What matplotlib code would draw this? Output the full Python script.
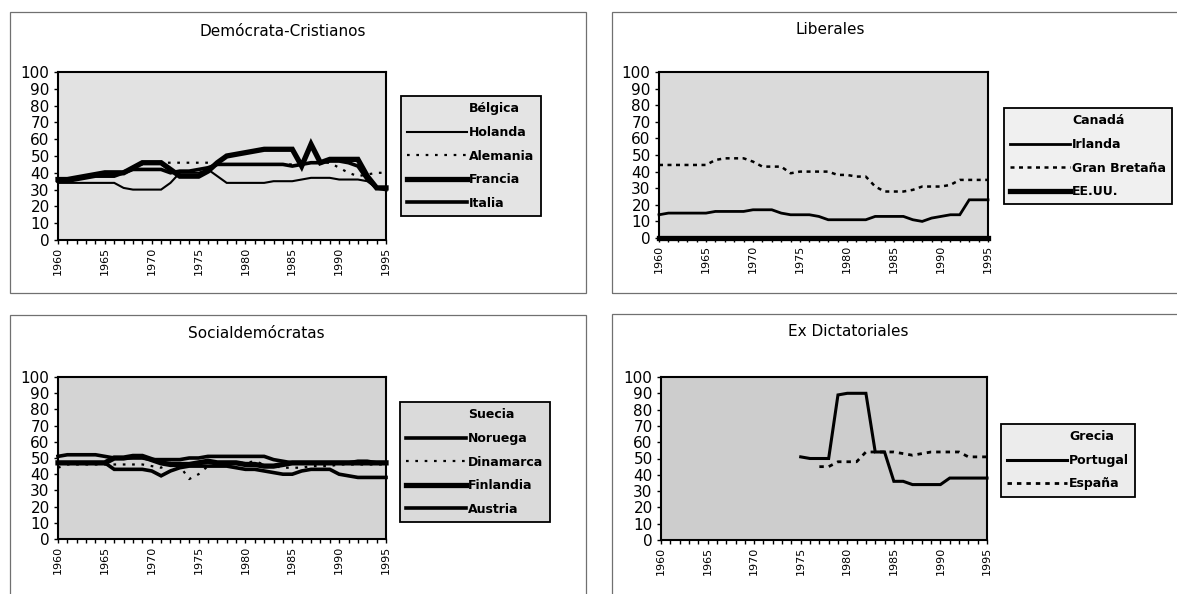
import matplotlib.pyplot as plt
from matplotlib.lines import Line2D
from matplotlib.patches import Rectangle

plt.rcParams['font.family'] = ['DejaVu Sans']

years = list(range(1960, 1996))

# Demócrata-Cristianos (1960-1995)
holanda = [34, 34, 34, 34, 34, 34, 34, 31, 30, 30, 30, 30, 34, 40, 40, 40, 42, 38, 34, 34,
           34, 34, 34, 35, 35, 35, 36, 37, 37, 37, 36, 36, 36, 35, 31, 31]
alemania = [36, 36, 37, 38, 39, 40, 40, 41, 43, 45, 46, 46, 46, 46, 46, 46, 46, 45, 45, 45,
            45, 45, 45, 45, 45, 45, 45, 46, 46, 46, 43, 40, 38, 39, 40, 40]
francia = [36, 36, 37, 38, 39, 40, 40, 40, 43, 46, 46, 46, 42, 38, 38, 38, 41, 46, 50, 51,
           52, 53, 54, 54, 54, 54, 44, 57, 46, 48, 48, 48, 48, 38, 31, 31]
italia = [35, 35, 36, 37, 38, 38, 38, 40, 42, 42, 42, 42, 40, 41, 41, 42, 43, 45, 45, 45,
          45, 45, 45, 45, 45, 44, 45, 46, 46, 47, 47, 46, 44, 36, 31, 30]

# Liberales
irlanda = [14, 15, 15, 15, 15, 15, 16, 16, 16, 16, 17, 17, 17, 15, 14, 14, 14, 13, 11, 11,
           11, 11, 11, 13, 13, 13, 13, 11, 10, 12, 13, 14, 14, 23, 23, 23]
gran_bretana = [44, 44, 44, 44, 44, 44, 47, 48, 48, 48, 46, 43, 43, 43, 39, 40, 40, 40, 40, 38,
                38, 37, 37, 31, 28, 28, 28, 29, 31, 31, 31, 32, 35, 35, 35, 35]
eeuu = [0, 0, 0, 0, 0, 0, 0, 0, 0, 0, 0, 0, 0, 0, 0, 0, 0, 0, 0, 0,
        0, 0, 0, 0, 0, 0, 0, 0, 0, 0, 0, 0, 0, 0, 0, 0]

# Socialdemócratas
noruega = [47, 47, 47, 47, 47, 47, 43, 43, 43, 43, 42, 39, 42, 44, 45, 45, 45, 45, 45, 44,
           43, 43, 42, 41, 40, 40, 42, 43, 43, 43, 40, 39, 38, 38, 38, 38]
dinamarca = [44, 46, 46, 46, 46, 46, 46, 46, 46, 46, 45, 44, 47, 45, 37, 40, 45, 46, 47, 47,
             47, 48, 46, 45, 44, 44, 44, 45, 45, 45, 46, 46, 46, 46, 46, 46]
finlandia = [47, 47, 47, 47, 47, 47, 50, 50, 51, 51, 49, 47, 46, 46, 46, 47, 48, 47, 47, 47,
             46, 46, 45, 45, 46, 47, 47, 47, 47, 47, 47, 47, 47, 47, 47, 47]
austria = [51, 52, 52, 52, 52, 51, 50, 50, 50, 50, 49, 49, 49, 49, 50, 50, 51, 51, 51, 51,
           51, 51, 51, 49, 48, 47, 47, 47, 47, 47, 47, 47, 48, 48, 47, 47]

# Ex Dictatoriales
portugal_years = list(range(1975, 1996))
portugal = [51, 50, 50, 50, 89, 90, 90, 90, 54, 54, 36, 36, 34, 34, 34, 34, 38, 38, 38, 38, 38]
espana_years = list(range(1977, 1996))
espana = [45, 45, 48, 48, 48, 54, 54, 54, 54, 53, 52, 53, 54, 54, 54, 54, 51, 51, 51]

W, H = 1177, 594
fig = plt.figure(figsize=(W / 100, H / 100), dpi=100, facecolor='white')


def px_axes(l, t, r, b):
    return fig.add_axes([l / W, 1 - b / H, (r - l) / W, (b - t) / H])


dotted = (0, (1.2, 3))
dashed = (0, (1.6, 1.8))

panels = [
    dict(title='Demócrata-Cristianos', title_xy=(283, 31), box=(10, 12, 586, 293),
         ax=(58, 72, 386, 240), bg='#e2e2e2', leg_xy=(401, 96), leg_bg='#e4e4e4',
         series=[('Bélgica', None, None, {}),
                 ('Holanda', years, holanda, dict(lw=1.5)),
                 ('Alemania', years, alemania, dict(lw=1.6, ls=dotted)),
                 ('Francia', years, francia, dict(lw=3.8)),
                 ('Italia', years, italia, dict(lw=2.6))]),
    dict(title='Liberales', title_xy=(830, 30), box=(612, 12, 1200, 293),
         ax=(659, 72, 988, 238), bg='#dadada', leg_xy=(1004, 108), leg_bg='#f0f0f0',
         series=[('Canadá', None, None, {}),
                 ('Irlanda', years, irlanda, dict(lw=2.0)),
                 ('Gran Bretaña', years, gran_bretana, dict(lw=1.8, ls=dashed)),
                 ('EE.UU.', years, eeuu, dict(lw=3.8))]),
    dict(title='Socialdemócratas', title_xy=(256, 334), box=(10, 315, 586, 620),
         ax=(58, 377, 386, 539), bg='#d4d4d4', leg_xy=(400, 402), leg_bg='#dadada',
         series=[('Suecia', None, None, {}),
                 ('Noruega', years, noruega, dict(lw=2.6)),
                 ('Dinamarca', years, dinamarca, dict(lw=1.6, ls=dotted)),
                 ('Finlandia', years, finlandia, dict(lw=3.8)),
                 ('Austria', years, austria, dict(lw=2.6))]),
    dict(title='Ex Dictatoriales', title_xy=(848, 332), box=(612, 314, 1200, 620),
         ax=(661, 377, 987, 540), bg='#cdcdcd', leg_xy=(1001, 424), leg_bg='#ececec',
         series=[('Grecia', None, None, {}),
                 ('Portugal', portugal_years, portugal, dict(lw=2.2)),
                 ('España', espana_years, espana, dict(lw=2.0, ls=dashed))]),
]

for p in panels:
    l, t, r, b = p['box']
    fig.add_artist(Rectangle((l / W, 1 - b / H), (r - l) / W, (b - t) / H,
                             transform=fig.transFigure, fill=False,
                             ec='#707070', lw=0.9))
    fig.text(p['title_xy'][0] / W, 1 - p['title_xy'][1] / H, p['title'],
             ha='center', va='center', fontsize=11)

    ax = px_axes(*p['ax'])
    ax.set_facecolor(p['bg'])
    handles, labels = [], []
    for name, xs, ys, st in p['series']:
        if xs is None:
            h = Line2D([], [], color='none')
        else:
            h, = ax.plot(xs, ys, color='black', solid_joinstyle='miter',
                         clip_on=False, **st)
        handles.append(h)
        labels.append(name)

    ax.set_xlim(1960, 1995)
    ax.set_ylim(0, 100)
    ax.set_yticks(range(0, 101, 10))
    ax.set_xticks(years)
    ax.set_xticklabels([str(y) if y % 5 == 0 else '' for y in years],
                       rotation=90, fontsize=8)
    ax.tick_params(axis='y', labelsize=11, length=3, width=1, pad=3, direction='out')
    ax.tick_params(axis='x', length=3, width=1, pad=2, direction='out')
    for s in ax.spines.values():
        s.set_linewidth(1.5)
        s.set_color('black')

    leg = ax.legend(handles, labels, loc='upper left',
                    bbox_to_anchor=(p['leg_xy'][0] / W, 1 - p['leg_xy'][1] / H),
                    bbox_transform=fig.transFigure, borderaxespad=0,
                    fancybox=False, framealpha=1, facecolor=p['leg_bg'],
                    edgecolor='black', handlelength=4.8, handletextpad=0.15,
                    labelspacing=0.85, borderpad=0.5,
                    prop=dict(size=9, weight='bold'))
    leg.get_frame().set_linewidth(1.3)

plt.savefig('out.png', dpi=100)
